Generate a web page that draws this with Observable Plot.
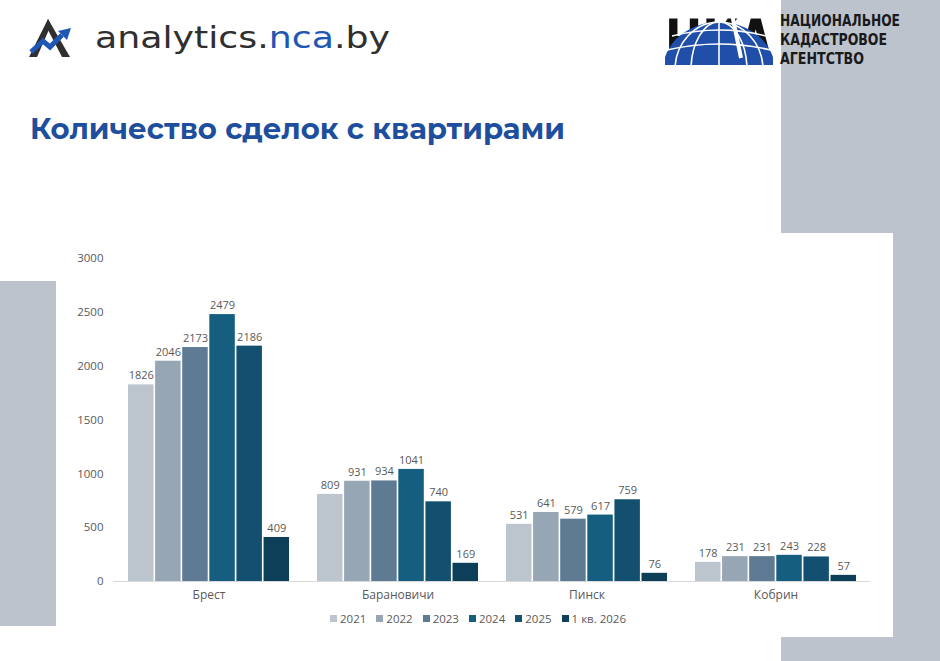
<!DOCTYPE html>
<html>
<head>
<meta charset="utf-8">
<script src="https://cdn.jsdelivr.net/npm/d3@7"></script>
<script src="https://cdn.jsdelivr.net/npm/@observablehq/plot@0.6"></script>
<style>
  html, body { margin: 0; padding: 0; background: #fff; }
  #page { position: relative; width: 940px; height: 661px; overflow: hidden; font-family: "Open Sans", sans-serif; }
  .abs { position: absolute; }
  #legend { position: absolute; top: 611px; left: 0; width: 940px; display: flex; justify-content: center; gap: 10px; font-size: 11.5px; color: #595959; padding-left: 16px; box-sizing: border-box; }
  #legend span.item { display: inline-flex; align-items: center; gap: 3px; }
  #legend span.sw { width: 7px; height: 7px; display: inline-block; }
</style>
</head>
<body>
<div id="page">
  <div class="abs" style="left:781px;top:0;width:159px;height:661px;background:#bcc3cd"></div>
  <div class="abs" style="left:0;top:233px;width:893px;height:404px;background:#fff"></div>
  <div class="abs" style="left:0;top:281px;width:56px;height:345px;background:#bcc3cd"></div>
  <svg class="abs" style="left:0;top:0" width="940" height="160">
    <polygon points="29,57 48,19 51,25 37,57" fill="#2f2f2f"/>
    <polygon points="48,19 70,57 62,57 46,26" fill="#2f2f2f"/>
    <polyline points="31,52 43,41 50,47 62,35" fill="none" stroke="#1f57b5" stroke-width="5"/>
    <polygon points="58,31 71,28 67,40" fill="#1f57b5"/>
    <text x="95" y="48" font-family="DejaVu Sans" font-size="31" fill="#2f2f2f" textLength="295" lengthAdjust="spacingAndGlyphs">analytics.<tspan fill="#1f57b5">nca</tspan>.by</text>
    <g transform="translate(665,64) scale(1,1.3)">
      <text x="0" y="0" font-family="'DejaVu Sans Condensed', sans-serif" font-weight="bold" font-size="48" fill="#111" textLength="108" lengthAdjust="spacingAndGlyphs">НКА</text>
    </g>
    <clipPath id="clipG"><rect x="665" y="12" width="108" height="53"/></clipPath>
    <g clip-path="url(#clipG)">
      <ellipse cx="719" cy="70" rx="56" ry="48" fill="#1f4fa8"/>
      <g fill="none" stroke="#fff" stroke-width="1.6">
        <ellipse cx="719" cy="70" rx="28" ry="48"/>
        <ellipse cx="719" cy="70" rx="44" ry="48"/>
        <line x1="719" y1="20" x2="719" y2="70"/>
        <path d="M667,50 Q719,38 771,50"/>
        <path d="M672,36 Q719,24 766,36"/>
      </g>
    </g>
    <line x1="732" y1="14" x2="741" y2="58" stroke="#fff" stroke-width="4"/>
    <g font-family="'DejaVu Sans Condensed', sans-serif" font-weight="bold" font-size="15" fill="#1a1a1a">
      <text x="780" y="26" textLength="120" lengthAdjust="spacingAndGlyphs">НАЦИОНАЛЬНОЕ</text>
      <text x="780" y="45" textLength="107" lengthAdjust="spacingAndGlyphs">КАДАСТРОВОЕ</text>
      <text x="780" y="64" textLength="84" lengthAdjust="spacingAndGlyphs">АГЕНТСТВО</text>
    </g>
    <text x="30" y="139" font-family="Montserrat, 'Open Sans', sans-serif" font-weight="bold" font-size="29" fill="#1d4f9e" textLength="535" lengthAdjust="spacingAndGlyphs">Количество сделок с квартирами</text>
  </svg>
  <div id="chart" class="abs" style="left:0;top:233px"></div>
  <div id="legend"></div>
</div>
<script>
const cities = ["Брест", "Барановичи", "Пинск", "Кобрин"];
const years = ["2021", "2022", "2023", "2024", "2025", "1 кв. 2026"];
const colors = ["#bcc4ce", "#97a6b5", "#5f7b94", "#165e80", "#13506f", "#0e3f58"];
const brest = [1826, 2046, 2173, 2479, 2186, 409];
const baranovichi = [809, 931, 934, 1041, 740, 169];
const pinsk = [531, 641, 579, 617, 759, 76];
const kobrin = [178, 231, 231, 243, 228, 57];
const yTicks = [0, 500, 1000, 1500, 2000, 2500, 3000];

const series = [brest, baranovichi, pinsk, kobrin];
const data = [];
cities.forEach((c, i) => years.forEach((y, j) => data.push({city: c, year: y, value: series[i][j]})));

const chart = Plot.plot({
  width: 940,
  height: 380,
  marginLeft: 128,
  marginRight: 84,
  marginTop: 25,
  marginBottom: 32,
  style: {background: "transparent", fontFamily: "'Open Sans', sans-serif", color: "#595959", fontSize: "11px"},
  fx: {domain: cities, paddingInner: 0.148, paddingOuter: 0, round: false, label: null, axis: null},
  x: {domain: years, paddingInner: 0.06, paddingOuter: 0, round: false, axis: null},
  y: {domain: [0, 3000], axis: null},
  color: {domain: years, range: colors},
  marks: [
    Plot.axisY({ticks: yTicks, tickSize: 0, tickPadding: 25, label: null, tickFormat: "d", fontSize: 11.5}),
    Plot.axisFx({anchor: "bottom", tickSize: 0, tickPadding: 9, label: null, fontSize: 12}),
    Plot.barY(data, {fx: "city", x: "year", y: "value", fill: "year"}),
    Plot.ruleY([0], {stroke: "#d9d9d9", strokeWidth: 1, insetLeft: -15, insetRight: -14}),
    Plot.text(data, {fx: "city", x: "year", y: "value", text: d => String(d.value), dy: -9, fill: "#595959", fontSize: 11})
  ]
});
document.getElementById("chart").appendChild(chart);

const legend = document.getElementById("legend");
years.forEach((y, i) => {
  const item = document.createElement("span");
  item.className = "item";
  const sw = document.createElement("span");
  sw.className = "sw";
  sw.style.background = colors[i];
  item.appendChild(sw);
  item.appendChild(document.createTextNode(y));
  legend.appendChild(item);
});
</script>
</body>
</html>
